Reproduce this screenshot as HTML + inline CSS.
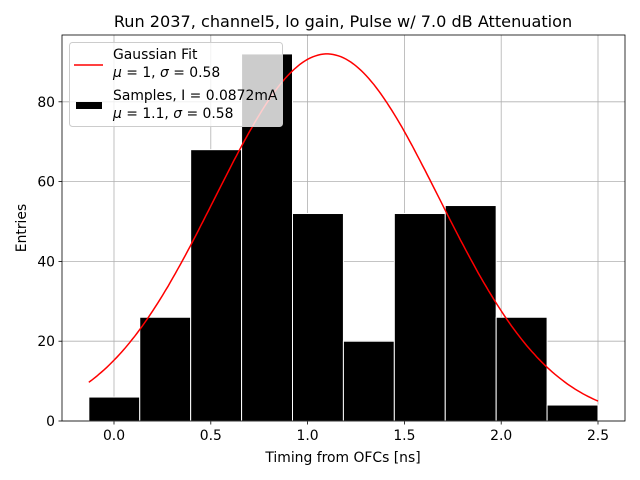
<!DOCTYPE html>
<html><head><meta charset="utf-8"><style>body{margin:0;background:#fff}svg{display:block;font-family:"DejaVu Sans","Liberation Sans",sans-serif}</style></head>
<body>
<svg id="c" width="640" height="480" xmlns="http://www.w3.org/2000/svg"></svg>
<script>
const binEdgeStart = -0.13;
const binWidth = 0.263;
const counts = [6, 26, 68, 92, 52, 20, 52, 54, 26, 4];
const xTicks = [0.0, 0.5, 1.0, 1.5, 2.0, 2.5];
const xTickLabels = ["0.0", "0.5", "1.0", "1.5", "2.0", "2.5"];
const yTicks = [0, 20, 40, 60, 80];
const fitMu = 1.1, fitSigma = 0.58, fitAmp = 92;

const L = 62, R = 625, T = 35, B = 421;
const FS = 13.9;
const xs = v => 114 + (v - 0) * 193.6;
const ys = v => B - v * 3.99;
const svg = document.getElementById('c');
const NS = 'http://www.w3.org/2000/svg';
function mk(tag, attrs, text) {
  const e = document.createElementNS(NS, tag);
  for (const k in attrs) e.setAttribute(k, attrs[k]);
  if (text !== undefined) e.textContent = text;
  svg.appendChild(e);
  return e;
}
let e;
e = mk('text', {x: 343, y: 27, 'font-size': 16.1, 'text-anchor': 'middle'}, 'Run 2037, channel5, lo gain, Pulse w/ 7.0 dB Attenuation');
 
xTicks.forEach((t, i) => {
  const x = xs(t);
  e = mk('line', {x1: x, x2: x, y1: T, y2: B, stroke: '#b0b0b0', 'stroke-width': 0.8});
   
  mk('line', {x1: x, x2: x, y1: B, y2: B + 3.5, stroke: '#000', 'stroke-width': 0.8});
  e = mk('text', {x: x, y: B + 19, 'font-size': FS, 'text-anchor': 'middle'}, xTickLabels[i]);
   
});
yTicks.forEach(t => {
  const y = ys(t);
  e = mk('line', {x1: L, x2: R, y1: y, y2: y, stroke: '#b0b0b0', 'stroke-width': 0.8});
   
  mk('line', {x1: L - 3.5, x2: L, y1: y, y2: y, stroke: '#000', 'stroke-width': 0.8});
  e = mk('text', {x: L - 7, y: y + 5, 'font-size': FS, 'text-anchor': 'end'}, String(t));
   
});
counts.forEach((c, i) => {
  const x0 = xs(binEdgeStart + i * binWidth), x1 = xs(binEdgeStart + (i + 1) * binWidth);
  e = mk('rect', {x: x0, y: ys(c), width: x1 - x0, height: B - ys(c), fill: '#000', stroke: '#fff', 'stroke-width': 1});
   
});
let pts = [];
const xEnd = binEdgeStart + counts.length * binWidth;
for (let k = 0; k <= 200; k++) {
  const v = binEdgeStart + (xEnd - binEdgeStart) * k / 200;
  const g = fitAmp * Math.exp(-Math.pow(v - fitMu, 2) / (2 * fitSigma * fitSigma));
  pts.push(xs(v).toFixed(1) + ',' + ys(g).toFixed(1));
}
e = mk('polyline', {points: pts.join(' '), fill: 'none', stroke: 'red', 'stroke-width': 1.5});
 
e = mk('rect', {x: L, y: T, width: R - L, height: B - T, fill: 'none', stroke: '#000', 'stroke-width': 0.8});
 
e = mk('text', {x: 343, y: 462, 'font-size': FS, 'text-anchor': 'middle'}, 'Timing from OFCs [ns]');
 
e = mk('text', {x: 26, y: 228, 'font-size': FS, 'text-anchor': 'middle', transform: 'rotate(-90 26 228)'}, 'Entries');
 
e = mk('rect', {x: 69.5, y: 42.5, width: 213, height: 84, rx: 3, fill: 'rgba(255,255,255,0.8)', stroke: '#ccc', 'stroke-width': 1});
 
e = mk('line', {x1: 74, x2: 103, y1: 65, y2: 65, stroke: 'red', 'stroke-width': 1.5});
 
e = mk('text', {x: 113, y: 59, 'font-size': FS}, 'Gaussian Fit');
 
e = mk('text', {x: 113, y: 77, 'font-size': FS}); e.innerHTML = '<tspan font-style="italic">μ</tspan> = 1, <tspan font-style="italic">σ</tspan> = 0.58';
 
e = mk('rect', {x: 76, y: 102, width: 26, height: 7, fill: '#000'});
 
e = mk('text', {x: 113, y: 100, 'font-size': FS}, 'Samples, I = 0.0872mA');
 
e = mk('text', {x: 113, y: 118, 'font-size': FS}); e.innerHTML = '<tspan font-style="italic">μ</tspan> = 1.1, <tspan font-style="italic">σ</tspan> = 0.58';
 
</script>
</body></html>
